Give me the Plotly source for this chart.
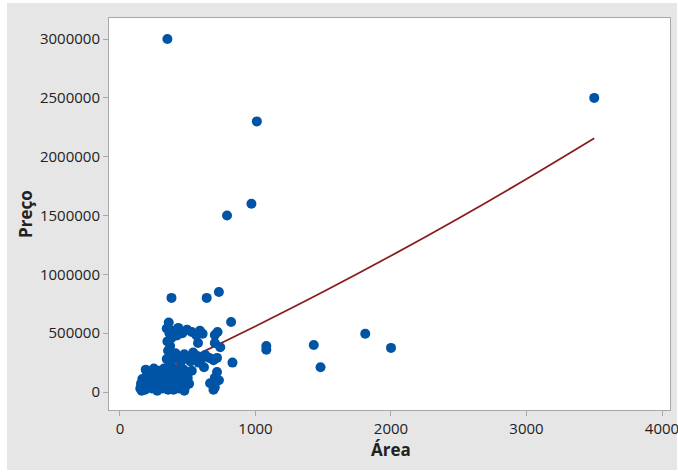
import plotly.graph_objects as go

# ---- data ----
area = [
    # outliers
    350, 3500, 1010, 970, 790, 380, 640, 730, 360, 820, 1080, 1080, 1430, 1480, 1810, 2000, 830,
    # dense column near 350-380
    345, 365, 380, 350, 370, 355, 375, 345, 365, 380, 350, 370, 355, 370, 345,
    # upper row
    400, 430, 460, 495, 530, 565, 590, 610, 420, 700, 720,
    576, 700, 740,
    # middle row
    410, 440, 475, 505, 540, 570, 600, 630, 660, 690, 455, 520, 580, 400,
    # right, lower
    716, 716, 700, 665, 700, 730, 690, 620, 530,
    # bottom blob
    150, 155, 165, 160,
    185, 195, 205, 200, 190,
    235, 240, 230, 245, 250,
    275, 285, 270, 280, 290,
    315, 320, 330, 310, 325,
    395, 405, 400, 410, 390,
    435, 445, 440, 430, 450,
    475, 485, 480, 490, 470,
    510, 500,
]
preco = [
    3000000, 2500000, 2300000, 1600000, 1500000, 800000, 800000, 850000, 590000, 595000,
    390000, 360000, 400000, 210000, 495000, 375000, 250000,
    540000, 500000, 460000, 430000, 390000, 350000, 310000, 280000, 240000, 210000, 180000,
    150000, 20000, 60000, 100000,
    520000, 545000, 500000, 530000, 510000, 480000, 520000, 495000, 480000, 485000, 510000,
    416000, 416000, 380000,
    330000, 300000, 320000, 290000, 335000, 305000, 280000, 315000, 290000, 270000, 265000,
    260000, 250000, 280000,
    290000, 170000, 120000, 75000, 40000, 100000, 20000, 210000, 180000,
    30000, 70000, 110000, 10000,
    20000, 60000, 100000, 150000, 190000,
    30000, 80000, 120000, 160000, 200000,
    10000, 50000, 100000, 140000, 180000,
    30000, 70000, 120000, 160000, 200000,
    20000, 60000, 110000, 150000, 190000,
    30000, 80000, 120000, 170000, 210000,
    10000, 50000, 100000, 140000, 190000,
    70000, 120000,
]

# fitted curve
fit_area = [160, 600, 1000, 1500, 2000, 2500, 3000, 3500]
fit_preco = [98000, 334700, 559000, 851500, 1157500, 1477000, 1810000, 2156400]

x_ticks = [0, 1000, 2000, 3000, 4000]
y_ticks = [0, 500000, 1000000, 1500000, 2000000, 2500000, 3000000]

fig = go.Figure()
fig.add_trace(go.Scatter(x=fit_area, y=fit_preco, mode="lines",
                         line=dict(color="#8b1c1c", width=1.8, shape="spline"),
                         hoverinfo="skip", showlegend=False))
fig.add_trace(go.Scatter(x=area, y=preco, mode="markers",
                         marker=dict(color="#0054a6", size=10, line=dict(width=0)),
                         showlegend=False))

gray = "#e6e6e6"
axcol = "#a8a8a8"
font = "Open Sans, Noto Sans, sans-serif"

# thin white border around the grey chart background (paper coords)
W, H = 561.0, 392.0
def px(v):
    return (v - 109) / W
def py(v):
    return (410 - v) / H
strips = [
    (px(-5), py(480), px(7), py(-5)),
    (px(677), py(480), px(690), py(-5)),
    (px(-5), py(-5), px(690), py(3)),
    (px(-5), py(480), px(690), py(470)),
]
shapes = [dict(type="rect", xref="paper", yref="paper", x0=a, y0=b, x1=c, y1=d,
               fillcolor="white", line=dict(width=0), layer="below")
          for a, b, c, d in strips]

annotations = [
    dict(text="<b>Área</b>", xref="paper", yref="paper", x=px(391), y=py(449),
         xanchor="center", yanchor="middle", showarrow=False,
         font=dict(size=17, family=font, color="#222222")),
    dict(text="<b>Preço</b>", xref="paper", yref="paper", x=px(25), y=py(214),
         xanchor="center", yanchor="middle", showarrow=False, textangle=-90,
         font=dict(size=17, family=font, color="#222222")),
]

fig.update_layout(
    width=678, height=474,
    margin=dict(l=109, r=8, t=18, b=64, autoexpand=False),
    paper_bgcolor=gray, plot_bgcolor="white",
    font=dict(family=font, size=15, color="#222222"),
    shapes=shapes, annotations=annotations,
    xaxis=dict(range=[-81, 4059], tickvals=x_ticks, ticktext=[str(v) for v in x_ticks],
               showgrid=False, zeroline=False, showline=True, mirror=True,
               linecolor=axcol, linewidth=1, ticks="outside", ticklen=5, tickcolor=axcol,
               ticklabeloverflow="allow", automargin=False),
    yaxis=dict(range=[-153000, 3179000], tickvals=y_ticks, ticktext=[str(v) for v in y_ticks],
               showgrid=False, zeroline=False, showline=True, mirror=True,
               linecolor=axcol, linewidth=1, ticks="outside", ticklen=5, tickcolor=axcol,
               ticklabeloverflow="allow", automargin=False),
)

fig.write_html("out.html", config={"displayModeBar": False},
               post_script="document.body.style.margin='0px';document.body.style.padding='0px';")
